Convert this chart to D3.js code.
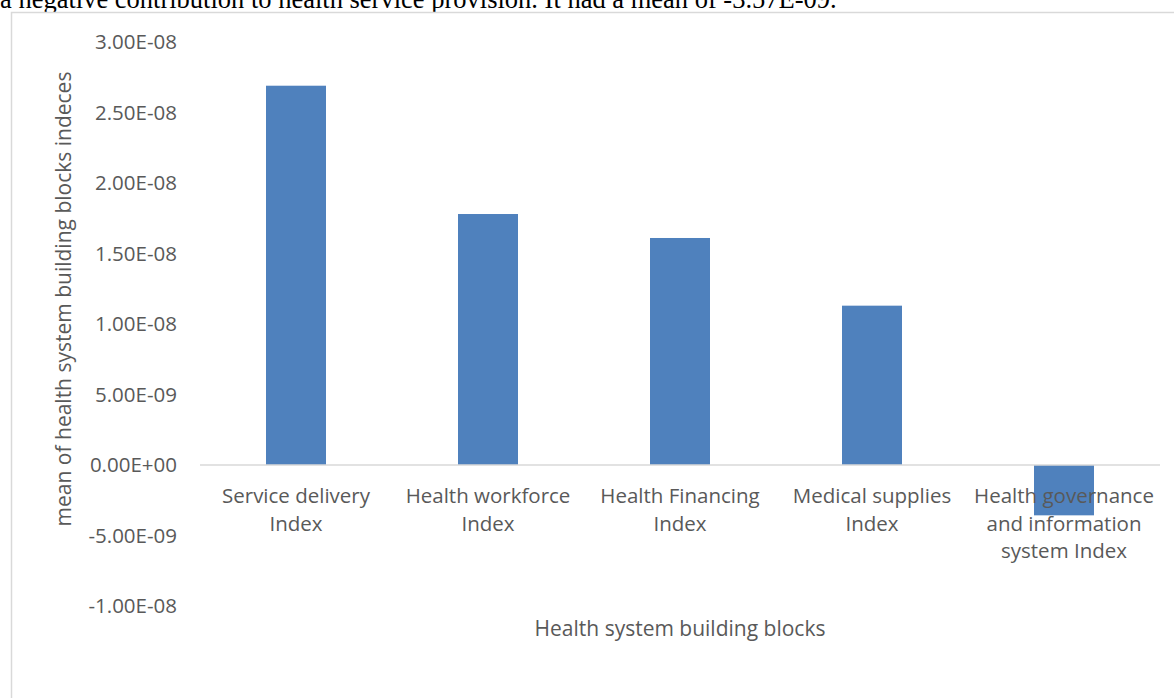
<!DOCTYPE html>
<html>
<head>
<meta charset="utf-8">
<script src="https://cdn.jsdelivr.net/npm/d3@7/dist/d3.min.js"></script>
<style>
  body { margin: 0; background: #fff; overflow: hidden; }
  svg { display: block; }
</style>
</head>
<body>
<svg id="chart" width="1174" height="698"></svg>
<script>
// data
var categories = ['Service delivery Index', 'Health workforce Index', 'Health Financing Index',
                  'Medical supplies Index', 'Health governance and information system Index'];
var means = [2.69e-8, 1.78e-8, 1.61e-8, 1.13e-8, -3.57e-9];
var yTicks = [-1e-8, -5e-9, 0, 5e-9, 1e-8, 1.5e-8, 2e-8, 2.5e-8, 3e-8];
var yTickLabels = ['-1.00E-08', '-5.00E-09', '0.00E+00', '5.00E-09', '1.00E-08',
                   '1.50E-08', '2.00E-08', '2.50E-08', '3.00E-08'];
var aboveText = 'a negative contribution to health service provision. It had a mean of -3.57E-09.';

var font = '"Open Sans", "Noto Sans", sans-serif';
var textColor = '#595959';

var svg = d3.select('#chart');

// bit of the report text above the chart (its top is cut off in the original too)
svg.append('text')
  .attr('x', 0)
  .attr('y', 8)
  .style('font-family', '"Liberation Serif", "Times New Roman", serif')
  .style('font-size', '26.5px')
  .attr('fill', '#000')
  .text(aboveText);

// chart border (right and bottom fall outside the page)
svg.append('rect')
  .attr('x', 11.5)
  .attr('y', 12.5)
  .attr('width', 1300)
  .attr('height', 800)
  .attr('fill', '#fff')
  .attr('stroke', '#d9d9d9')
  .attr('stroke-width', 1.5);

var x = d3.scaleBand()
  .domain(categories)
  .range([200, 1160])
  .paddingInner(0.6875)
  .paddingOuter(0.34375);

var y = d3.scaleLinear()
  .domain([-1e-8, 3e-8])
  .range([606, 42]);

// y axis labels, no axis line
var yAxis = svg.append('g')
  .attr('transform', 'translate(177,0)')
  .call(d3.axisLeft(y).tickValues(yTicks).tickSize(0).tickPadding(0)
    .tickFormat(function (d, i) { return yTickLabels[i]; }));
yAxis.select('.domain').remove();
yAxis.selectAll('text')
  .style('font-family', font)
  .style('font-size', '20.5px')
  .attr('fill', textColor);

// bars
svg.selectAll('rect.bar')
  .data(means)
  .enter()
  .append('rect')
  .attr('class', 'bar')
  .attr('x', function (d, i) { return x(categories[i]); })
  .attr('width', x.bandwidth())
  .attr('y', function (d) { return y(Math.max(0, d)); })
  .attr('height', function (d) { return Math.abs(y(d) - y(0)); })
  .attr('fill', '#4f81bd');

// zero line
svg.append('line')
  .attr('x1', 200)
  .attr('x2', 1160)
  .attr('y1', y(0))
  .attr('y2', y(0))
  .attr('stroke', '#d9d9d9')
  .attr('stroke-width', 1.5);

// category labels, wrapped to the band width
var xAxis = svg.append('g')
  .attr('transform', 'translate(0,' + y(0) + ')')
  .call(d3.axisBottom(x).tickSize(0).tickPadding(0));
xAxis.select('.domain').remove();
xAxis.selectAll('text')
  .style('font-family', font)
  .style('font-size', '20.5px')
  .attr('fill', textColor)
  .attr('dy', null)
  .attr('y', 0)
  .each(function (d) {
    var el = d3.select(this);
    var words = d.split(' ');
    var lines = [];
    var line = [];
    el.text(null);
    var probe = el.append('tspan');
    words.forEach(function (w) {
      line.push(w);
      probe.text(line.join(' '));
      if (probe.node().getComputedTextLength() > x.step() - 4 && line.length > 1) {
        line.pop();
        lines.push(line.join(' '));
        line = [w];
      }
    });
    lines.push(line.join(' '));
    probe.remove();
    lines.forEach(function (l, k) {
      el.append('tspan')
        .attr('x', 0)
        .attr('y', 38 + k * 27.5)
        .text(l);
    });
  });

// axis titles
svg.append('text')
  .attr('x', 680)
  .attr('y', 636)
  .attr('text-anchor', 'middle')
  .style('font-family', font)
  .style('font-size', '21px')
  .attr('fill', textColor)
  .text('Health system building blocks');

svg.append('text')
  .attr('transform', 'translate(71,299) rotate(-90)')
  .attr('text-anchor', 'middle')
  .style('font-family', font)
  .style('font-size', '21px')
  .attr('fill', textColor)
  .text('mean of health system building blocks indeces');
</script>
</body>
</html>
